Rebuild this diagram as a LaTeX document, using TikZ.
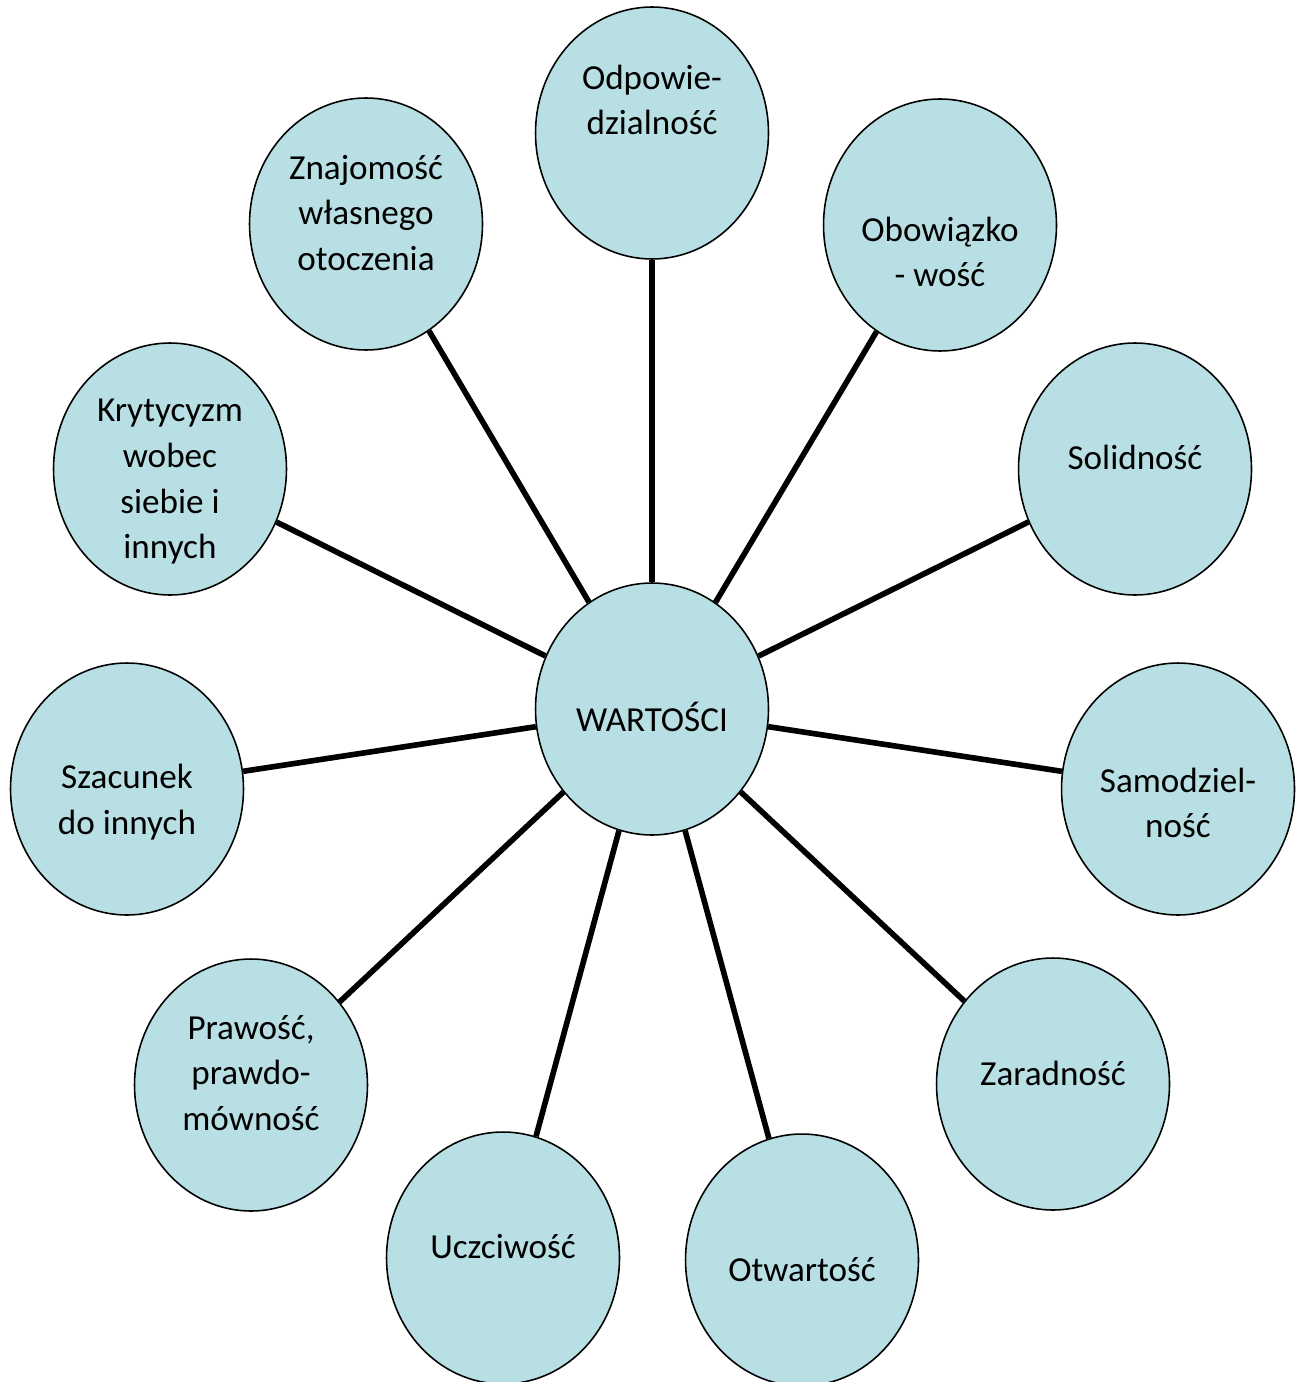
\documentclass[tikz,border=0pt]{standalone}
\usepackage{fontspec}
\setmainfont{Carlito}
\usetikzlibrary{shapes.geometric}
\definecolor{valfill}{RGB}{184,223,227}

\begin{document}
\begin{tikzpicture}[x=0.02cm,y=-0.02cm,
   value/.style={ellipse,draw=black,line width=0.9pt,fill=valfill,
                 minimum width=4.66cm,minimum height=5.04cm,inner sep=0pt},
   word/.style={align=center,inner sep=0pt,font=\fontsize{20}{26}\selectfont},
   spoke/.style={line width=3.2pt}]
   \clip (0,0) rectangle (1305,1382);

   \node[value] (war) at (652,709) {};
   \node[value] (odp) at (652,133) {};
   \node[value] (obo) at (940,225) {};
   \node[value] (sol) at (1135,469) {};
   \node[value] (sam) at (1178,789) {};
   \node[value] (zar) at (1053,1084) {};
   \node[value] (otw) at (802,1260) {};
   \node[value] (ucz) at (503,1258) {};
   \node[value] (pra) at (251,1085) {};
   \node[value] (sza) at (127,789) {};
   \node[value] (kry) at (170,469) {};
   \node[value] (zna) at (366,224) {};

   \node[word] (war-t) at (652,717) {WARTOŚCI};
   \node[word] (odp-t) at (652,100) {Odpowie-\\dzialność};
   \node[word] (obo-t) at (940,252) {Obowiązko\\- wość};
   \node[word] (sol-t) at (1135,457) {Solidność};
   \node[word] (sam-t) at (1178,803) {Samodziel-\\ność};
   \node[word] (zar-t) at (1053,1073) {Zaradność};
   \node[word] (otw-t) at (802,1270) {Otwartość};
   \node[word] (ucz-t) at (503,1247) {Uczciwość};
   \node[word] (pra-t) at (251,1073) {Prawość,\\prawdo-\\mówność};
   \node[word] (sza-t) at (127,802) {Szacunek\\do innych};
   \node[word] (kry-t) at (170,482) {Krytycyzm\\wobec\\siebie i\\innych};
   \node[word] (zna-t) at (366,213) {Znajomość\\własnego\\otoczenia};

   \draw[spoke] (war) -- (odp) ;
   \draw[spoke] (war) -- (obo) ;
   \draw[spoke] (war) -- (sol) ;
   \draw[spoke] (war) -- (sam) ;
   \draw[spoke] (war) -- (zar) ;
   \draw[spoke] (war) -- (otw) ;
   \draw[spoke] (war) -- (ucz) ;
   \draw[spoke] (war) -- (pra) ;
   \draw[spoke] (war) -- (sza) ;
   \draw[spoke] (war) -- (kry) ;
   \draw[spoke] (war) -- (zna) ;
\end{tikzpicture}
\end{document}
